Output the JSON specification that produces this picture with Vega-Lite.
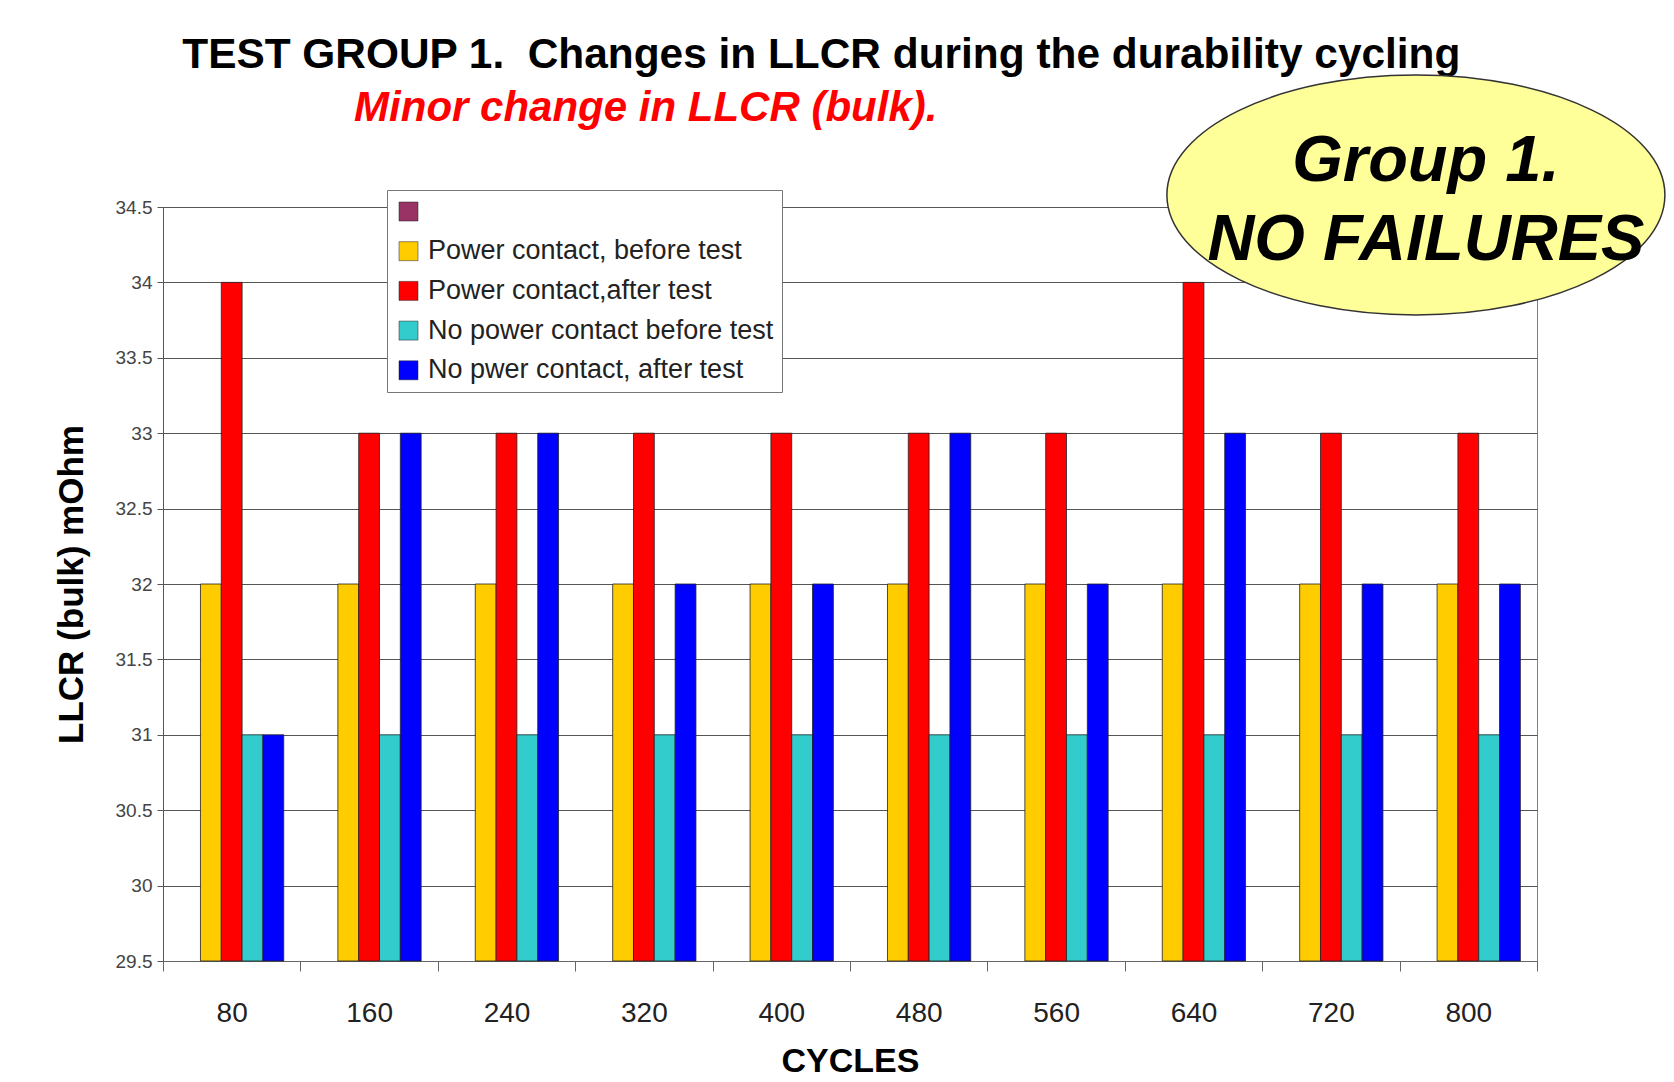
{
  "$schema": "https://vega.github.io/schema/vega-lite/v6.json",
  "width": 1374,
  "height": 754,
  "autosize": {"type": "none"},
  "padding": {"left": 163, "top": 207, "right": 137, "bottom": 121},
  "background": "white",
  "config": {"view": {"stroke": "#808080", "strokeWidth": 1}, "font": "Liberation Sans"},
  "layer": [
    {
      "data": {
        "values": [
          {"cycles": 80, "series": "Power contact, before test", "llcr": 32},
          {"cycles": 80, "series": "Power contact,after test", "llcr": 34},
          {"cycles": 80, "series": "No power contact before test", "llcr": 31},
          {"cycles": 80, "series": "No pwer contact, after test", "llcr": 31},
          {"cycles": 160, "series": "Power contact, before test", "llcr": 32},
          {"cycles": 160, "series": "Power contact,after test", "llcr": 33},
          {"cycles": 160, "series": "No power contact before test", "llcr": 31},
          {"cycles": 160, "series": "No pwer contact, after test", "llcr": 33},
          {"cycles": 240, "series": "Power contact, before test", "llcr": 32},
          {"cycles": 240, "series": "Power contact,after test", "llcr": 33},
          {"cycles": 240, "series": "No power contact before test", "llcr": 31},
          {"cycles": 240, "series": "No pwer contact, after test", "llcr": 33},
          {"cycles": 320, "series": "Power contact, before test", "llcr": 32},
          {"cycles": 320, "series": "Power contact,after test", "llcr": 33},
          {"cycles": 320, "series": "No power contact before test", "llcr": 31},
          {"cycles": 320, "series": "No pwer contact, after test", "llcr": 32},
          {"cycles": 400, "series": "Power contact, before test", "llcr": 32},
          {"cycles": 400, "series": "Power contact,after test", "llcr": 33},
          {"cycles": 400, "series": "No power contact before test", "llcr": 31},
          {"cycles": 400, "series": "No pwer contact, after test", "llcr": 32},
          {"cycles": 480, "series": "Power contact, before test", "llcr": 32},
          {"cycles": 480, "series": "Power contact,after test", "llcr": 33},
          {"cycles": 480, "series": "No power contact before test", "llcr": 31},
          {"cycles": 480, "series": "No pwer contact, after test", "llcr": 33},
          {"cycles": 560, "series": "Power contact, before test", "llcr": 32},
          {"cycles": 560, "series": "Power contact,after test", "llcr": 33},
          {"cycles": 560, "series": "No power contact before test", "llcr": 31},
          {"cycles": 560, "series": "No pwer contact, after test", "llcr": 32},
          {"cycles": 640, "series": "Power contact, before test", "llcr": 32},
          {"cycles": 640, "series": "Power contact,after test", "llcr": 34},
          {"cycles": 640, "series": "No power contact before test", "llcr": 31},
          {"cycles": 640, "series": "No pwer contact, after test", "llcr": 33},
          {"cycles": 720, "series": "Power contact, before test", "llcr": 32},
          {"cycles": 720, "series": "Power contact,after test", "llcr": 33},
          {"cycles": 720, "series": "No power contact before test", "llcr": 31},
          {"cycles": 720, "series": "No pwer contact, after test", "llcr": 32},
          {"cycles": 800, "series": "Power contact, before test", "llcr": 32},
          {"cycles": 800, "series": "Power contact,after test", "llcr": 33},
          {"cycles": 800, "series": "No power contact before test", "llcr": 31},
          {"cycles": 800, "series": "No pwer contact, after test", "llcr": 32}
        ]
      },
      "mark": {"type": "bar", "stroke": "#222", "strokeWidth": 0.8},
      "encoding": {
        "x": {
          "field": "cycles",
          "type": "ordinal",
          "scale": {"paddingInner": 0, "paddingOuter": 0},
          "axis": {
            "title": "CYCLES",
            "titleFontSize": 34,
            "titleFontWeight": "bold",
            "titleColor": "black",
            "titlePadding": 17,
            "labelFontSize": 28,
            "labelColor": "#222",
            "labelAngle": 0,
            "labelPadding": 28,
            "tickBand": "extent",
            "tickSize": 10,
            "tickColor": "#666",
            "domainColor": "#666",
            "grid": false
          }
        },
        "xOffset": {
          "field": "series",
          "type": "nominal",
          "scale": {"domain": [" ", "Power contact, before test", "Power contact,after test", "No power contact before test", "No pwer contact, after test"], "paddingInner": 0, "paddingOuter": 0.8}
        },
        "y": {
          "field": "llcr",
          "type": "quantitative",
          "scale": {"domain": [29.5, 34.5], "zero": false, "nice": false},
          "axis": {
            "title": "LLCR (bulk) mOhm",
            "titleFontSize": 35,
            "titleFontWeight": "bold",
            "titleColor": "black",
            "titlePadding": 26,
            "values": [29.5, 30, 30.5, 31, 31.5, 32, 32.5, 33, 33.5, 34, 34.5],
            "format": ".1~f",
            "labelFontSize": 19,
            "labelColor": "#444",
            "labelPadding": 5,
            "tickSize": 6,
            "tickColor": "#555",
            "domainColor": "#555",
            "grid": true,
            "gridColor": "#555",
            "gridWidth": 1
          }
        },
        "y2": {"datum": 29.5},
        "color": {
          "field": "series",
          "type": "nominal",
          "scale": {
            "domain": [" ", "Power contact, before test", "Power contact,after test", "No power contact before test", "No pwer contact, after test"],
            "range": ["#993366", "#FFCC00", "#FF0000", "#33CCCC", "#0000FF"]
          },
          "legend": {
            "orient": "none",
            "legendX": 224,
            "legendY": -17,
            "title": null,
            "fillColor": "white",
            "strokeColor": "#777",
            "padding": 8,
            "labelFontSize": 27,
            "labelColor": "#222",
            "labelLimit": 0,
            "labelOffset": 6,
            "symbolType": "square",
            "symbolSize": 361,
            "symbolStrokeColor": "#222",
            "symbolStrokeWidth": 0.5,
            "symbolOpacity": 1,
            "rowPadding": 11.7
          }
        }
      }
    },
    {
      "data": {"values": [{}]},
      "mark": {"type": "text", "text": "TEST GROUP 1.\u00a0 Changes in LLCR during the durability cycling", "font": "Liberation Sans", "fontSize": 42.4, "fontWeight": "bold", "color": "black", "align": "center", "baseline": "middle", "xOffset": 40},
      "encoding": {
        "x": {"datum": 400, "type": "ordinal"},
        "y": {"datum": 35.505, "type": "quantitative"}
      }
    },
    {
      "data": {"values": [{}]},
      "mark": {"type": "text", "text": "Minor change in LLCR (bulk).", "font": "Liberation Sans", "fontSize": 42, "fontWeight": "bold", "fontStyle": "italic", "color": "#FF0000", "align": "left", "baseline": "middle", "xOffset": -15},
      "encoding": {
        "x": {"datum": 160, "type": "ordinal"},
        "y": {"datum": 35.157, "type": "quantitative"}
      }
    },
    {
      "data": {"values": [{}]},
      "mark": {"type": "point", "shape": "M -1 0 A 1 0.482 0 1 1 1 0 A 1 0.482 0 1 1 -1 0 Z", "size": 248004, "filled": true, "fill": "#FFFF99", "stroke": "#333", "strokeWidth": 1.5, "opacity": 1, "xOffset": 85},
      "encoding": {
        "x": {"datum": 720, "type": "ordinal"},
        "y": {"datum": 34.58, "type": "quantitative"}
      }
    },
    {
      "data": {"values": [{}]},
      "mark": {"type": "text", "text": ["Group 1.", "NO FAILURES"], "font": "Liberation Sans", "fontSize": 65, "fontWeight": "bold", "fontStyle": "italic", "color": "black", "align": "center", "baseline": "middle", "lineHeight": 79, "xOffset": 95},
      "encoding": {
        "x": {"datum": 720, "type": "ordinal"},
        "y": {"datum": 34.808, "type": "quantitative"}
      }
    }
  ]
}
